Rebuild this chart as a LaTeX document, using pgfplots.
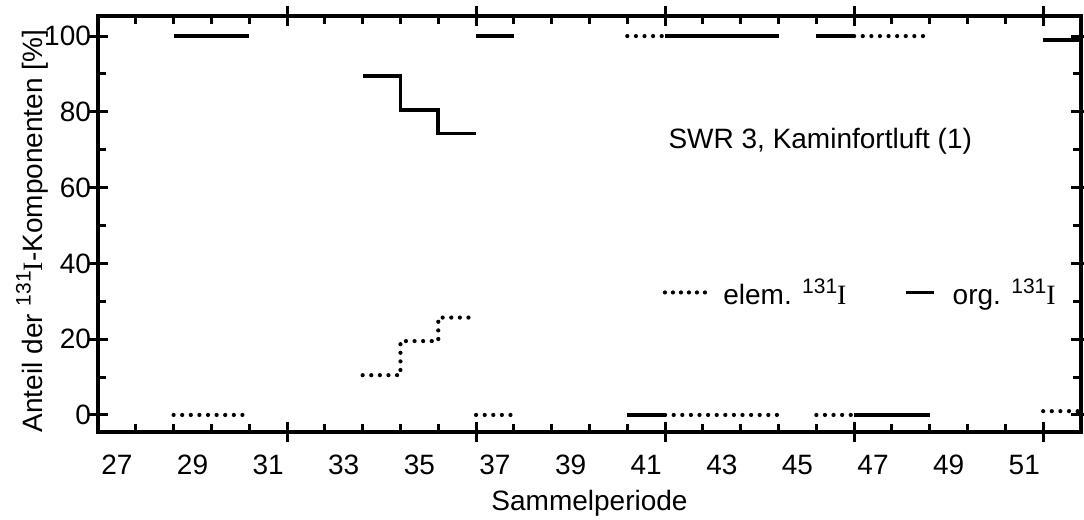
\documentclass[border=0pt]{standalone}
\usepackage{pgfplots}
\pgfplotsset{compat=1.18}
\usepackage{fontspec}
\setmainfont{Liberation Sans}
\newfontfamily\serifI{Liberation Serif}
\newcommand{\iso}{\raisebox{0.42em}{\fontsize{10.5}{10.5}\selectfont 131}{\serifI I}}
\pgfplotsset{
  orgline/.style={black, line width=1.8pt, const plot, forget plot},
  elemline/.style={black, line width=2.1pt, dash pattern=on 0pt off 4.3pt, line cap=round, const plot, forget plot},
  elemlegend/.style={legend image code/.code={\draw[black, line width=2.1pt, dash pattern=on 0pt off 4pt, line cap=round] (0pt,1pt) -- (20pt,1pt); \path (29pt,0pt);}},
  orglegend/.style={legend image code/.code={\draw[black, line width=1.8pt] (0pt,1pt) -- (14pt,1pt); \path (23pt,0pt);}},
}
\begin{document}
\begin{tikzpicture}[font=\fontsize{14}{16}\selectfont]
\path[use as bounding box] (-49pt,-44pt) rectangle (493pt,216pt);
\begin{axis}[
  scale only axis, width=491.5pt, height=208pt,
  xmin=26.5, xmax=52.5, ymin=-4.5, ymax=105.3,
  axis line style={line width=1.6pt},
  tick style={line width=1.5pt, black},
  tick align=inside, major tick length=4pt,
  tick pos=both, ticklabel pos=left,
  xtick={27.5,28.5,...,51.5},
  xticklabels={27,,29,,31,,33,,35,,37,,39,,41,,43,,45,,47,,49,,51,},
  xticklabel style={xshift=-9.45pt, yshift=-8pt},
  ytick={0,10,...,100},
  yticklabels={0,,20,,40,,60,,80,,100},
  extra x ticks={31.5,36.5,41.5,46.5,51.5},
  extra x tick labels={},
  extra y ticks={0,20,40,60,80,100},
  extra y tick labels={},
  extra tick style={tick align=center, major tick length=10pt},
  xlabel={Sammelperiode},
  xlabel style={at={(axis description cs:0.5,0)}, anchor=base, yshift=-39.3pt},
  ylabel={Anteil der \iso-Komponenten [\%]},
  ylabel style={at={(axis description cs:-0.0671,0.483)}, anchor=center},
  legend columns=2,
  legend style={draw=none, fill=none, at={(axis cs:41.44,31.8)}, anchor=west, inner sep=0pt, outer sep=0pt,
    nodes={inner sep=0pt, text height=13.4pt, text depth=3pt},
    /tikz/every even column/.append style={column sep=29pt}},
]
% org. 131I (solid)
\addplot[orgline] coordinates {(28.5,100) (30.5,100)};
\addplot[orgline] coordinates {(33.5,89.5) (34.5,80.5) (35.5,74.3) (36.5,74.3)};
\addplot[orgline] coordinates {(36.5,100) (37.5,100)};
\addplot[orgline] coordinates {(40.5,0) (41.5,0)};
\addplot[orgline] coordinates {(41.5,100) (44.5,100)};
\addplot[orgline] coordinates {(45.5,100) (46.5,100)};
\addplot[orgline] coordinates {(46.5,0) (48.5,0)};
\addplot[orgline] coordinates {(51.5,99) (52.5,99)};
% elem. 131I (dotted)
\addplot[elemline] coordinates {(28.5,0) (30.5,0)};
\addplot[elemline] coordinates {(33.5,10.5) (34.5,19.5) (35.5,25.7) (36.5,25.7)};
\addplot[elemline] coordinates {(36.5,0) (37.5,0)};
\addplot[elemline] coordinates {(40.5,100) (41.5,100)};
\addplot[elemline] coordinates {(41.5,0) (44.5,0)};
\addplot[elemline] coordinates {(45.5,0) (46.5,0)};
\addplot[elemline] coordinates {(46.5,100) (48.5,100)};
\addplot[elemline] coordinates {(51.5,1) (52.5,1)};
\addlegendimage{elemlegend}
\addlegendentry{elem. \iso}
\addlegendimage{orglegend}
\addlegendentry{org. \iso}
\node[anchor=base west, inner sep=0pt] at (axis cs:41.58,70.2) {SWR 3, Kaminfortluft (1)};
\end{axis}
\end{tikzpicture}
\end{document}
